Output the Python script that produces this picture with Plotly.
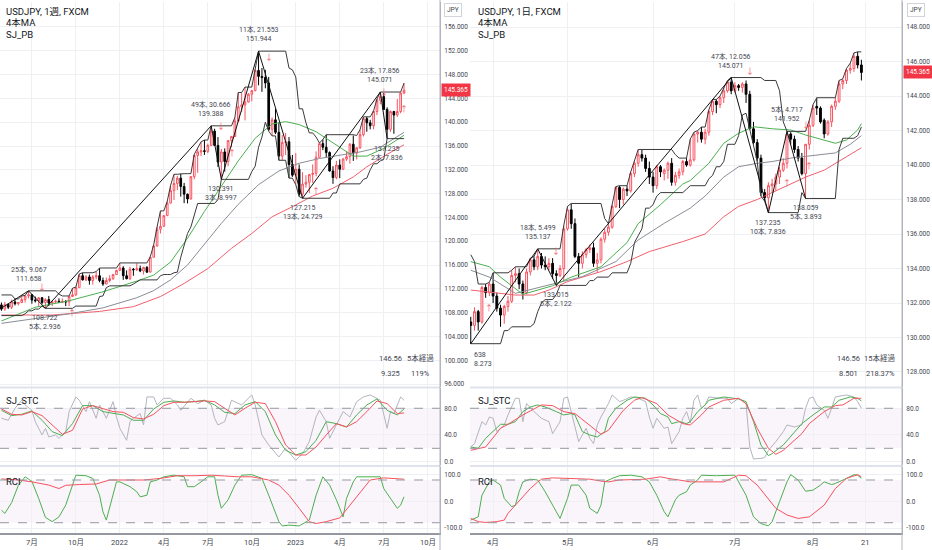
import plotly.graph_objects as go
import pandas as pd

FONT = "Roboto, 'Noto Sans CJK JP', sans-serif"

# ---------------- weekly USDJPY (1週) ----------------
w_dates = list(pd.date_range("2021-05-03", periods=120, freq="W-MON"))
w_open = [109.3, 108.6, 109.4, 108.9, 109.8, 109.5, 109.7, 110.2, 110.8, 111.0,
          110.1, 110.0, 110.5, 109.7, 110.2, 109.6, 109.8, 109.9, 109.7, 109.9,
          109.8, 110.7, 111.0, 112.2, 114.2, 113.5, 114.0, 113.4, 114.0, 114.2,
          113.4, 112.8, 113.4, 113.7, 114.4, 115.1, 115.5, 114.2, 113.7, 115.3,
          115.2, 115.4, 115.0, 115.6, 114.8, 117.3, 119.2, 122.0, 122.5, 124.3,
          126.4, 128.5, 129.7, 130.6, 129.2, 127.9, 127.1, 130.85, 134.4, 135.0,
          135.2, 135.1, 136.1, 138.5, 136.1, 133.3, 135.0, 133.4, 136.9, 137.6,
          140.2, 142.6, 142.9, 143.4, 144.7, 145.3, 148.7, 147.7, 147.5, 146.6,
          138.8, 140.4, 138.3, 134.3, 136.6, 136.7, 132.9, 131.1, 132.1, 127.9,
          129.6, 129.9, 131.2, 131.4, 134.1, 136.4, 135.8, 134.9, 131.8, 130.7,
          132.8, 132.1, 133.8, 134.2, 136.3, 134.8, 135.7, 137.9, 140.6, 139.9,
          139.4, 141.8, 143.7, 144.3, 142.15, 138.8, 141.8, 141.2, 141.8, 144.9]
w_high = [109.7, 109.8, 109.5, 110.2, 110.3, 109.8, 110.8, 110.9, 111.658, 111.1,
          110.7, 110.6, 110.6, 110.4, 110.8, 110.1, 110.2, 110.4, 110.4, 110.1,
          110.8, 112.1, 112.3, 114.5, 114.7, 114.3, 114.4, 114.3, 114.9, 115.5,
          113.9, 113.9, 114.3, 114.5, 115.2, 116.35, 115.8, 115.1, 115.7, 115.5,
          116.3, 115.9, 115.7, 115.8, 117.4, 119.4, 122.4, 125.1, 124.3, 126.7,
          129.4, 131.25, 131.0, 131.35, 129.8, 128.0, 130.9, 134.6, 135.6, 136.7,
          137.0, 136.4, 139.388, 138.9, 137.5, 135.5, 135.6, 137.0, 137.7, 140.8,
          144.99, 144.9, 145.9, 144.9, 145.4, 148.9, 151.944, 149.1, 148.8, 147.6,
          140.8, 142.25, 139.9, 137.85, 138.2, 137.5, 134.5, 134.8, 132.9, 131.6,
          131.1, 131.3, 132.9, 135.1, 136.5, 137.1, 137.9, 135.1, 132.6, 133.5,
          133.75, 134.0, 135.137, 136.5, 137.77, 135.8, 138.75, 140.9, 140.9, 140.4,
          141.9, 143.9, 145.071, 144.9, 142.5, 141.952, 141.9, 143.9, 145.0, 146.56]
w_low = [108.3, 108.3, 108.6, 108.6, 109.2, 109.2, 109.6, 109.7, 110.4, 109.5,
         109.7, 109.1, 109.4, 108.722, 109.1, 109.1, 109.6, 109.6, 109.6, 109.1,
         109.1, 110.7, 110.8, 112.2, 113.4, 113.3, 112.7, 112.7, 113.6, 113.1,
         112.5, 112.8, 113.1, 113.5, 114.4, 115.0, 113.5, 113.6, 113.5, 114.2,
         115.0, 114.8, 114.4, 114.7, 114.8, 117.3, 119.1, 121.3, 122.4, 124.3,
         126.4, 126.9, 128.6, 127.5, 126.4, 126.35, 127.0, 130.4, 131.5, 134.3,
         134.5, 134.8, 136.0, 136.7, 132.5, 130.391, 131.7, 132.6, 135.8, 137.5,
         140.0, 141.7, 140.3, 143.3, 143.5, 145.2, 146.2, 145.1, 145.7, 138.5,
         137.7, 138.0, 133.6, 133.6, 134.5, 130.6, 130.8, 129.5, 127.5, 127.215,
         129.0, 128.1, 129.8, 130.9, 134.0, 135.3, 134.1, 131.7, 129.64, 130.4,
         130.6, 132.0, 133.5, 133.015, 133.5, 133.75, 135.5, 137.6, 138.4, 138.8,
         138.8, 141.2, 143.0, 142.1, 137.235, 138.4, 138.059, 140.9, 141.5, 144.7]
w_close = [108.6, 109.4, 108.9, 109.8, 109.5, 109.7, 110.2, 110.8, 111.0, 110.1,
           110.0, 110.5, 109.7, 110.2, 109.6, 109.8, 109.9, 109.7, 109.9, 109.8,
           110.7, 111.0, 112.2, 114.2, 113.5, 114.0, 113.4, 114.0, 114.2, 113.4,
           112.8, 113.4, 113.7, 114.4, 115.1, 115.5, 114.2, 113.7, 115.3, 115.2,
           115.4, 115.0, 115.6, 114.8, 117.3, 119.2, 122.0, 122.5, 124.3, 126.4,
           128.5, 129.7, 130.6, 129.2, 127.9, 127.1, 130.85, 134.4, 135.0, 135.2,
           135.1, 136.1, 138.5, 136.1, 133.3, 135.0, 133.4, 136.9, 137.6, 140.2,
           142.6, 142.9, 143.4, 144.7, 145.3, 148.7, 147.7, 147.5, 146.6, 138.8,
           140.4, 138.3, 134.3, 136.6, 136.7, 132.9, 131.1, 132.1, 127.9, 129.6,
           129.9, 131.2, 131.4, 134.1, 136.4, 135.8, 134.9, 131.8, 130.7, 132.8,
           132.1, 133.8, 134.2, 136.3, 134.8, 135.7, 137.9, 140.6, 139.9, 139.4,
           141.8, 143.7, 144.3, 142.15, 138.8, 141.8, 141.2, 141.8, 144.9, 145.365]

# SJ_PB channel (weekly)
w_upper = [110.97, 110.97, 110.97, 110.97, 110.3, 110.3, 110.8, 110.9, 111.66, 111.66,
           111.66, 111.66, 111.66, 111.66, 111.66, 111.66, 111.66, 111.1, 110.8, 110.8,
           110.8, 112.1, 112.3, 114.5, 114.7, 114.7, 114.7, 114.7, 114.9, 115.5,
           115.5, 115.5, 115.5, 115.5, 115.5, 116.35, 116.35, 116.35, 116.35, 116.35,
           116.35, 116.35, 116.35, 116.35, 117.4, 119.4, 122.4, 125.1, 125.1, 126.7,
           129.4, 131.25, 131.25, 131.35, 131.35, 131.35, 131.35, 134.6, 135.6, 136.7,
           137.0, 137.0, 139.39, 139.39, 139.39, 139.39, 139.39, 139.39, 139.39, 140.8,
           144.99, 144.99, 145.9, 145.9, 145.9, 148.9, 151.94, 151.94, 151.94, 151.94,
           151.94, 151.94, 151.94, 151.94, 151.94, 149.1, 148.8, 147.6, 142.25, 142.25,
           139.9, 138.2, 138.2, 137.5, 136.5, 137.1, 137.9, 137.9, 137.9, 137.9,
           137.9, 137.9, 137.9, 137.9, 137.9, 137.77, 138.75, 140.9, 140.9, 140.9,
           141.9, 143.9, 145.07, 145.07, 145.07, 145.07, 145.07, 145.07, 145.07, 146.56]
w_lower = [107.5, 107.5, 107.5, 107.5, 107.5, 107.5, 107.5, 107.8, 108.3, 108.3,
           108.6, 108.6, 109.1, 108.72, 108.72, 108.72, 108.72, 108.72, 108.72, 108.72,
           108.72, 108.72, 109.1, 109.1, 109.1, 109.1, 109.1, 109.1, 109.1, 110.7,
           110.8, 112.2, 112.5, 112.5, 112.5, 112.5, 112.5, 112.5, 112.5, 112.8,
           113.1, 113.5, 113.5, 113.5, 113.5, 113.5, 113.5, 114.2, 114.4, 114.4,
           114.4, 114.7, 114.8, 117.3, 119.1, 121.3, 122.4, 124.3, 126.35, 126.35,
           126.35, 126.35, 126.35, 126.35, 127.0, 130.39, 130.39, 130.39, 130.39, 130.39,
           130.39, 130.39, 130.39, 130.39, 131.7, 132.6, 135.8, 137.5, 140.0, 138.5,
           137.7, 137.7, 133.6, 133.6, 133.6, 130.6, 130.6, 129.5, 127.5, 127.22,
           127.22, 127.22, 127.22, 127.22, 127.22, 127.22, 127.22, 127.22, 128.1, 128.1,
           129.64, 129.64, 129.64, 129.64, 129.64, 129.64, 129.64, 130.4, 130.6, 132.0,
           133.02, 133.02, 133.5, 133.75, 137.24, 137.24, 137.24, 137.24, 137.24, 137.24]

# 4本MA (weekly), read at bar indices
w_ma_green_idx = [0, 10, 20, 30, 40, 45, 50, 55, 60, 65, 70, 75, 80, 84, 88, 93, 98, 104, 108, 113, 119]
w_ma_green = [106.6, 108.9, 110.0, 111.5, 113.3, 114.3, 116.5, 120.5, 125.0, 129.3, 133.5,
              137.3, 139.7, 140.1, 139.6, 138.4, 136.6, 134.3, 134.3, 135.6, 137.8]
w_ma_grey_idx = [0, 10, 20, 30, 40, 45, 50, 55, 60, 65, 70, 76, 82, 88, 94, 100, 106, 112, 119]
w_ma_grey = [106.2, 107.0, 107.8, 108.8, 110.5, 111.7, 113.5, 116.0, 119.5, 123.0, 126.2,
             129.5, 131.8, 133.1, 133.9, 134.4, 135.0, 135.8, 138.3]
w_ma_pink_idx = [0, 15, 29, 39, 47, 54, 61, 68, 74, 80, 86, 92, 98, 104, 108, 114, 119]
w_ma_pink = [107.6, 107.6, 108.2, 109.0, 110.7, 112.9, 115.4, 118.8, 121.3, 124.1, 125.8,
             127.6, 128.9, 130.8, 132.5, 134.6, 136.2]

# zigzag pivots (weekly)
w_piv_dates = ["2021-01-04", "2021-06-28", "2021-08-02", "2022-07-11", "2022-08-01",
               "2022-10-17", "2023-01-16", "2023-06-26", "2023-07-10"]
w_piv_vals = [102.591, 111.658, 108.722, 139.388, 130.391, 151.944, 127.215, 145.071, 137.235]
w_piv_text = ["", "25本, 9.067<br>111.658", "108.722<br>5本, 2.936", "49本, 30.666<br>139.388",
              "130.391<br>3本, 8.997", "11本, 21.553<br>151.944", "127.215<br>13本, 24.729",
              "23本, 17.856<br>145.071", "137.235<br>2本, 7.836"]
w_piv_high = [False, True, False, True, False, True, False, True, False]

# signal arrows (weekly)
w_arrow_idx = [12, 21, 65, 68, 79, 113, 93, 119]
w_arrow_val = [112.3, 107.9, 139.2, 134.8, 150.8, 145.0, 128.3, 142.1]
w_arrow_sym = ["↓", "↑", "↓", "↑", "↓", "↓", "↑", "↑"]

# SJ_STC (weekly)
w_stc_idx = list(range(0, 118, 3)) + [119]
w_stc_red = [79, 71, 70, 75, 69, 55, 41, 47, 79, 84, 79, 75, 74, 66, 64, 71, 84, 89, 89, 90, 91,
             90, 80, 70, 80, 89, 87, 60, 25, 10, 10, 22, 40, 57, 52, 60, 75, 91, 87, 72, 73]
w_stc_green = [77, 69, 71, 76, 62, 45, 39, 57, 84, 84, 75, 72, 70, 62, 62, 79, 89, 91, 89, 90, 92,
               85, 74, 72, 85, 90, 75, 40, 17, 10, 15, 32, 60, 57, 52, 70, 85, 94, 77, 70, 79]
w_stc_grey_idx = [0, 2, 4, 6, 7, 9, 10, 12, 13, 14, 16, 17, 19, 20, 22, 23, 25, 26, 28, 29, 31, 32,
                  33, 34, 35, 37, 38, 39, 41, 42, 43, 45, 46, 48, 50, 52, 53, 56, 58, 60, 62, 63,
                  64, 66, 68, 71, 74, 75, 77, 79, 82, 84, 87, 89, 91, 93, 94, 96, 97, 99, 101,
                  103, 105, 107, 109, 112, 114, 115, 116, 118, 119]
w_stc_grey = [65, 62, 80, 92, 85, 77, 60, 40, 50, 37, 40, 35, 45, 75, 97, 92, 75, 90, 65, 85, 65, 77,
              90, 67, 50, 32, 60, 65, 72, 55, 97, 97, 85, 95, 95, 85, 77, 95, 87, 92, 85, 65,
              55, 60, 92, 85, 100, 85, 40, 25, 7, 20, 2, 12, 30, 67, 77, 60, 35, 55, 75,
              67, 90, 97, 100, 92, 50, 75, 72, 97, 92]

# RCI (weekly)
w_rci_red_idx = [0, 5, 9, 14, 17, 19, 23, 28, 32, 37, 42, 47, 52, 57, 62, 66, 70, 74, 79, 82, 85,
                 88, 91, 93, 96, 100, 103, 106, 109, 113, 119]
w_rci_red = [84, 80, 73, 61, 48, 60, 63, 65, 80, 80, 80, 86, 96, 96, 98, 95, 92, 92, 80, 61, 23,
             -26, -76, -83, -76, -62, -14, 36, 80, 88, 83]
w_rci_green_idx = [0, 1, 3, 5, 7, 9, 11, 13, 15, 17, 19, 21, 22, 25, 27, 29, 30, 31, 32, 34, 35, 38,
                   40, 41, 43, 44, 46, 48, 51, 54, 55, 57, 59, 61, 63, 64, 65, 67, 69, 71, 74, 77,
                   79, 82, 83, 85, 88, 91, 93, 94, 95, 97, 99, 101, 102, 104, 105, 108, 112, 113,
                   115, 117, 118, 119]
w_rci_green = [-33, -45, -5, 60, 92, 75, 11, -60, -76, -58, -14, 61, 98, 96, 86, 23, -39, -70, -20,
               73, 73, 55, 36, 17, 23, 73, 80, 92, 98, 92, 55, 55, 73, 92, 92, 23, -26, 6, 61, 98,
               100, 86, 23, -76, -92, -89, -92, -70, 23, 61, 92, 61, 6, -58, 11, 73, 92, 92, 92,
               48, 11, -26, -14, 17]

w_tick_dates = ["2021-07-05", "2021-10-04", "2022-01-03", "2022-04-04", "2022-07-04",
                "2022-10-03", "2023-01-02", "2023-04-03", "2023-07-03", "2023-10-02"]
w_tick_text = ["7月", "10月", "2022", "4月", "7月", "10月", "2023", "4月", "7月", "10月"]
w_price_ticks = list(range(96, 157, 4))

# ---------------- daily USDJPY (1日) ----------------
d_dates = list(pd.bdate_range("2023-03-24", "2023-08-18"))
d_open = [130.9, 130.7, 131.5, 130.9, 132.9, 132.6, 133.1, 132.4, 131.7, 131.3,
          131.8, 132.1, 133.6, 133.7, 133.1, 132.6, 133.8, 134.5, 134.1, 134.7,
          134.2, 134.1, 134.3, 133.7, 133.6, 134.0, 136.3, 137.4, 136.6, 134.7,
          134.3, 134.8, 135.1, 135.2, 134.3, 134.5, 135.7, 136.1, 136.4, 137.6,
          138.7, 138.0, 138.6, 138.5, 139.5, 140.1, 140.6, 140.4, 139.8, 139.3,
          138.8, 139.9, 139.5, 139.7, 140.1, 139.0, 139.4, 139.6, 140.2, 140.0,
          140.3, 141.8, 141.9, 141.5, 141.9, 143.1, 143.7, 143.5, 143.9, 144.3,
          144.8, 144.3, 144.6, 144.5, 144.7, 144.1, 142.1, 141.3, 140.4, 138.4,
          138.1, 138.8, 138.9, 139.3, 139.7, 140.1, 141.8, 141.5, 140.9, 140.4,
          139.5, 141.2, 142.3, 143.4, 143.3, 142.6, 141.8, 142.5, 143.4, 143.7,
          144.7, 144.9, 145.5, 145.6, 146.3, 145.8]
d_high = [131.2, 131.75, 131.6, 133.0, 133.1, 133.2, 133.75, 132.6, 131.9, 131.9,
          132.4, 133.9, 134.1, 134.0, 133.3, 134.0, 134.6, 134.7, 135.137, 134.9,
          134.7, 134.6, 134.6, 133.9, 134.2, 136.5, 137.6, 137.77, 136.9, 134.9,
          135.0, 135.2, 135.4, 135.5, 134.9, 135.8, 136.3, 136.6, 137.7, 138.75,
          138.8, 138.7, 138.8, 139.6, 140.2, 140.9, 140.9, 140.6, 140.2, 139.6,
          140.0, 140.0, 139.8, 140.2, 140.4, 139.6, 139.8, 140.3, 140.4, 141.5,
          141.9, 142.0, 142.2, 142.1, 143.2, 143.8, 143.8, 144.0, 144.5, 144.9,
          145.071, 144.8, 144.7, 144.8, 144.9, 144.3, 142.5, 141.5, 140.6, 138.6,
          139.0, 139.2, 139.5, 139.9, 140.4, 141.952, 141.9, 141.7, 141.1, 140.7,
          141.2, 142.6, 143.5, 143.9, 143.4, 142.7, 142.6, 143.5, 143.9, 144.9,
          145.0, 145.6, 145.9, 146.5, 146.56, 146.1]
d_low = [129.638, 130.4, 130.4, 130.8, 132.3, 132.4, 132.0, 131.5, 130.62, 130.8,
         131.5, 132.0, 133.2, 132.8, 132.2, 132.5, 133.6, 133.9, 133.9, 134.0,
         133.9, 133.9, 133.4, 133.015, 133.5, 133.3, 136.2, 136.3, 134.6, 133.5,
         134.0, 134.6, 134.9, 134.1, 133.75, 134.3, 135.5, 135.9, 136.3, 137.5,
         137.5, 137.7, 138.2, 138.4, 139.3, 139.9, 140.2, 139.6, 138.9, 138.4,
         138.6, 139.3, 139.1, 139.2, 138.8, 138.8, 139.2, 139.4, 139.9, 139.9,
         140.2, 141.3, 141.3, 141.2, 141.7, 142.9, 143.0, 143.3, 143.6, 144.2,
         144.1, 144.2, 144.3, 144.2, 143.6, 142.1, 141.2, 140.2, 138.2, 137.9,
         137.235, 138.4, 138.5, 138.9, 139.6, 139.8, 141.2, 140.7, 140.2, 139.4,
         138.059, 140.9, 142.2, 142.9, 142.4, 141.55, 141.7, 142.2, 143.2, 143.6,
         144.4, 144.7, 145.3, 145.4, 145.6, 144.9]
d_close = [130.7, 131.5, 130.9, 132.9, 132.6, 133.1, 132.4, 131.7, 131.3, 131.8,
           132.1, 133.6, 133.7, 133.1, 132.6, 133.8, 134.5, 134.1, 134.7, 134.2,
           134.1, 134.3, 133.7, 133.6, 134.0, 136.3, 137.4, 136.6, 134.7, 134.3,
           134.8, 135.1, 135.2, 134.3, 134.5, 135.7, 136.1, 136.4, 137.6, 138.7,
           138.0, 138.6, 138.5, 139.5, 140.1, 140.6, 140.4, 139.8, 139.3, 138.8,
           139.9, 139.6, 139.7, 140.1, 139.0, 139.4, 139.6, 140.2, 140.0, 140.3,
           141.8, 141.9, 141.5, 141.9, 143.1, 143.7, 143.5, 143.9, 144.3, 144.8,
           144.3, 144.6, 144.5, 144.7, 144.1, 142.1, 141.3, 140.4, 138.4, 138.1,
           138.8, 138.9, 139.3, 139.7, 140.1, 141.8, 141.5, 140.9, 140.4, 139.5,
           141.2, 142.3, 143.3, 143.3, 142.5, 141.8, 142.5, 143.4, 143.7, 144.7,
           144.9, 145.5, 145.6, 146.3, 145.8, 145.365]

# SJ_PB channel (daily)
d_upper = [134.8, 134.4, 133.1, 133.1, 133.1, 133.2, 133.75, 133.75, 133.75, 133.75,
           133.75, 133.9, 134.1, 134.1, 134.1, 134.1, 134.6, 134.7, 135.14, 135.14,
           135.14, 135.14, 135.14, 135.14, 135.14, 136.5, 137.6, 137.77, 137.77, 137.77,
           137.77, 137.77, 137.77, 137.77, 137.77, 137.77, 136.9, 136.6, 137.7, 138.75,
           138.8, 138.8, 138.8, 139.6, 140.2, 140.9, 140.9, 140.9, 140.9, 140.9,
           140.9, 140.9, 140.9, 140.9, 140.9, 140.6, 140.4, 140.4, 140.4, 141.5,
           141.9, 142.0, 142.2, 142.2, 143.2, 143.8, 143.8, 144.0, 144.5, 144.9,
           145.07, 145.07, 145.07, 145.07, 145.07, 145.07, 145.07, 145.07, 145.07, 144.9,
           144.9, 144.9, 144.9, 144.3, 142.5, 141.95, 141.95, 141.95, 141.95, 141.95,
           141.95, 142.6, 143.5, 143.9, 143.9, 143.9, 143.9, 143.9, 143.9, 144.9,
           145.0, 145.6, 145.9, 146.5, 146.56, 146.56]
d_lower = [129.64, 129.64, 129.64, 129.64, 129.64, 129.64, 129.64, 129.64, 129.64, 130.4,
           130.4, 130.62, 130.62, 130.62, 130.62, 130.62, 130.62, 130.8, 131.5, 132.0,
           132.2, 132.2, 132.2, 132.5, 133.02, 133.02, 133.02, 133.02, 133.02, 133.02,
           133.02, 133.02, 133.3, 133.3, 133.5, 133.5, 133.5, 133.5, 133.75, 133.75,
           133.75, 133.75, 133.75, 134.3, 135.5, 135.9, 136.3, 137.5, 137.5, 137.7,
           138.2, 138.4, 138.4, 138.4, 138.4, 138.4, 138.4, 138.4, 138.6, 138.8,
           138.8, 138.8, 138.8, 138.8, 139.2, 139.4, 139.9, 139.9, 140.2, 141.2,
           141.2, 141.2, 141.7, 142.9, 143.0, 142.1, 141.2, 140.2, 138.2, 137.9,
           137.24, 137.24, 137.24, 137.24, 137.24, 137.24, 137.24, 137.24, 137.24, 138.4,
           138.06, 138.06, 138.06, 138.06, 138.06, 138.06, 138.06, 138.06, 138.06, 140.9,
           141.55, 141.55, 141.55, 141.55, 141.7, 142.2]

# 4本MA (daily), read at bar indices
d_ma_green_idx = [0, 5, 8, 14, 22, 27, 35, 42, 45, 51, 57, 59, 64, 68, 72, 76, 81, 86, 90, 95, 98, 101, 104, 105]
d_ma_green = [134.4, 134.1, 133.5, 132.5, 133.0, 133.5, 134.1, 135.5, 136.6, 137.7, 138.9, 139.1,
              140.1, 141.26, 141.84, 142.22, 142.1, 142.03, 141.74, 141.45, 141.26, 141.45, 142.03, 142.4]
d_ma_grey_idx = [0, 5, 12, 23, 30, 39, 45, 52, 59, 63, 68, 72, 77, 81, 86, 90, 95, 98, 102, 105]
d_ma_grey = [133.9, 133.5, 132.56, 133.14, 133.53, 134.4, 135.65, 136.62, 137.5, 138.2, 139.3,
             139.9, 140.1, 140.2, 140.4, 140.5, 140.6, 140.7, 141.2, 141.7]
d_ma_pink_idx = [0, 12, 17, 21, 26, 35, 42, 48, 57, 63, 68, 72, 77, 81, 86, 90, 95, 99, 105]
d_ma_pink = [132.75, 132.46, 132.46, 132.75, 133.24, 133.82, 134.4, 134.98, 135.56, 136.0, 137.0,
             137.6, 138.0, 138.4, 138.9, 139.3, 139.7, 140.2, 141.0]

# zigzag pivots (daily)
d_piv_dates = ["2023-03-08", "2023-03-24", "2023-04-19", "2023-04-26", "2023-06-30",
               "2023-07-14", "2023-07-21", "2023-07-28"]
d_piv_vals = [137.911, 129.638, 135.137, 133.015, 145.071, 137.235, 141.952, 138.059]
d_piv_text = ["", "", "18本, 5.499<br>135.137", "133.015<br>5本, 2.122", "47本, 12.056<br>145.071",
              "137.235<br>10本, 7.836", "5本, 4.717<br>141.952", "138.059<br>5本, 3.893"]
d_piv_high = [True, False, True, False, True, False, True, False]

d_arrow_idx = [5, 23, 75, 85, 90, 91]
d_arrow_val = [131.7, 135.0, 145.4, 138.9, 142.3, 139.9]
d_arrow_sym = ["↑", "↓", "↓", "↑", "↓", "↑"]

# SJ_STC (daily)
d_stc_red_idx = [0, 4, 8, 10, 14, 19, 22, 25, 28, 32, 35, 37, 41, 44, 46, 50, 53, 57, 59, 62, 64,
                 68, 72, 74, 77, 80, 82, 84, 86, 89, 91, 95, 98, 100, 103, 105]
d_stc_red = [17, 22, 50, 56, 70, 85, 84, 75, 72, 55, 41, 47, 77, 92, 96, 87, 70, 57, 55, 70, 82,
             92, 95, 87, 50, 20, 11, 17, 27, 42, 57, 75, 84, 85, 95, 95]
d_stc_green_idx = [0, 2, 4, 6, 8, 10, 12, 14, 16, 18, 20, 23, 25, 27, 28, 30, 32, 34, 36, 37, 39,
                   42, 44, 47, 49, 51, 53, 54, 56, 58, 59, 61, 63, 64, 68, 72, 74, 76, 78, 80, 81,
                   84, 87, 89, 92, 95, 97, 99, 102, 104, 105]
d_stc_green = [22, 20, 35, 45, 56, 56, 60, 75, 82, 85, 82, 75, 70, 72, 70, 45, 40, 37, 45, 65, 80,
               92, 97, 95, 85, 72, 67, 57, 60, 57, 60, 75, 85, 92, 97, 94, 90, 60, 25, 9, 12,
               25, 45, 57, 70, 82, 82, 92, 97, 95, 91]
d_stc_grey_idx = [0, 1, 3, 4, 5, 6, 7, 9, 10, 12, 13, 14, 15, 17, 19, 21, 22, 24, 25, 26, 27, 28,
                  29, 31, 32, 33, 34, 35, 37, 38, 40, 41, 43, 45, 47, 48, 49, 50, 52, 53, 54, 56,
                  57, 58, 59, 60, 61, 62, 63, 64, 67, 69, 70, 72, 74, 75, 76, 78, 79, 80, 82, 84,
                  85, 87, 89, 90, 91, 92, 93, 95, 96, 97, 98, 101, 103, 104, 105]
d_stc_grey = [22, 27, 60, 55, 67, 65, 45, 55, 70, 95, 95, 60, 87, 75, 65, 60, 42, 60, 95, 97, 75, 50,
              30, 50, 35, 27, 55, 67, 87, 100, 90, 92, 97, 95, 90, 67, 50, 65, 50, 52, 27, 45,
              65, 75, 58, 92, 100, 80, 85, 97, 95, 95, 87, 95, 87, 22, 4, 5, 6, 17, 30, 45,
              55, 52, 55, 80, 95, 97, 85, 77, 65, 80, 97, 100, 97, 90, 80]

# RCI (daily)
d_rci_red_idx = [0, 2, 4, 7, 9, 10, 12, 14, 16, 18, 19, 22, 26, 29, 32, 35, 37, 40, 44, 47, 51, 53,
                 56, 59, 63, 68, 72, 74, 77, 80, 82, 85, 88, 91, 95, 98, 101, 104, 105]
d_rci_red = [-64, -76, -79, -76, -70, -45, -14, 17, 48, 73, 83, 88, 86, 86, 83, 76, 73, 80, 83, 83,
             92, 86, 80, 73, 73, 73, 98, 96, 61, 11, -26, -51, -64, -58, -14, 48, 86, 100, 92]
d_rci_green_idx = [0, 2, 3, 5, 6, 8, 9, 11, 12, 13, 14, 16, 18, 20, 23, 24, 26, 27, 29, 31, 32, 34,
                   35, 36, 38, 40, 43, 46, 48, 50, 52, 53, 54, 55, 56, 58, 59, 61, 62, 66, 71, 72,
                   74, 76, 78, 80, 81, 83, 85, 86, 88, 90, 92, 94, 95, 97, 98, 101, 103, 104, 105]
d_rci_green = [-70, -58, 23, 73, 80, 61, 11, -20, -14, 36, 73, 83, 80, 36, -39, -64, 11, 61, 61, 23,
               -26, -45, -14, 73, 86, 96, 98, 92, 73, 23, -39, -58, -26, 6, 23, 36, 61, 80, 98, 96,
               98, 73, 23, -58, -83, -92, -76, -1, 73, 100, 80, 38, 42, 61, 73, 63, 67, 86, 100,
               98, 86]

d_tick_dates = ["2023-04-03", "2023-05-01", "2023-06-01", "2023-07-03", "2023-08-01", "2023-08-21"]
d_tick_text = ["4月", "5月", "6月", "7月", "8月", "21"]
d_price_ticks = list(range(128, 149, 2))

last_price = 145.365
stc_ticks = [0, 40, 80]
rci_ticks = [-100, 0, 100]

# ---------------- styling ----------------
C_UP = "#f7525f"
C_DN = "#000000"
C_GREEN = "#4caf50"
C_GREY = "#8a8d96"
C_PINK = "#f0606e"
C_CH = "#3a3a3a"
C_GRID = "#eef0f4"
C_TXT = "#434651"

W = 902.0      # plot width in px (932 minus right margin)
H = 533.0      # plot height in px (550 minus bottom margin)


def px_x(p):
    return p / W


def px_y(p):
    return 1 - p / H


XL = [0, px_x(440)]
XR = [px_x(470), 1]
Y_MAIN = [px_y(387), px_y(2)]
Y_STC = [px_y(465), px_y(388)]
Y_RCI = [0, px_y(467)]

fig = go.Figure()


def line(xs, ys, color, xa, ya, width=1.0):
    fig.add_trace(go.Scatter(x=xs, y=ys, mode="lines", line=dict(color=color, width=width),
                             xaxis=xa, yaxis=ya, hoverinfo="skip"))


def panel(dates, o, h, l, c, up, lo, mas, piv_d, piv_v, xa, ya):
    fig.add_trace(go.Candlestick(
        x=dates, open=o, high=h, low=l, close=c, xaxis=xa, yaxis=ya, whiskerwidth=0,
        increasing=dict(line=dict(color=C_UP, width=1), fillcolor="#ffffff"),
        decreasing=dict(line=dict(color=C_DN, width=1), fillcolor=C_DN),
        hoverinfo="skip"))
    for idx, vals, col in mas:
        line([dates[i] for i in idx], vals, col, xa, ya)
    line(dates, up, C_CH, xa, ya)
    line(dates, lo, C_CH, xa, ya)
    line(piv_d, piv_v, "#111111", xa, ya)


panel(w_dates, w_open, w_high, w_low, w_close, w_upper, w_lower,
      [(w_ma_pink_idx, w_ma_pink, C_PINK), (w_ma_grey_idx, w_ma_grey, C_GREY),
       (w_ma_green_idx, w_ma_green, C_GREEN)], w_piv_dates, w_piv_vals, "x", "y")
panel(d_dates, d_open, d_high, d_low, d_close, d_upper, d_lower,
      [(d_ma_pink_idx, d_ma_pink, C_PINK), (d_ma_grey_idx, d_ma_grey, C_GREY),
       (d_ma_green_idx, d_ma_green, C_GREEN)], d_piv_dates, d_piv_vals, "x2", "y2")

# oscillators
line([w_dates[i] for i in w_stc_grey_idx], w_stc_grey, "#b2b5be", "x3", "y3")
line([w_dates[i] for i in w_stc_idx], w_stc_green, C_GREEN, "x3", "y3")
line([w_dates[i] for i in w_stc_idx], w_stc_red, C_UP, "x3", "y3")
line([w_dates[i] for i in w_rci_green_idx], w_rci_green, C_GREEN, "x5", "y5")
line([w_dates[i] for i in w_rci_red_idx], w_rci_red, C_UP, "x5", "y5")

line([d_dates[i] for i in d_stc_grey_idx], d_stc_grey, "#b2b5be", "x4", "y4")
line([d_dates[i] for i in d_stc_green_idx], d_stc_green, C_GREEN, "x4", "y4")
line([d_dates[i] for i in d_stc_red_idx], d_stc_red, C_UP, "x4", "y4")
line([d_dates[i] for i in d_rci_green_idx], d_rci_green, C_GREEN, "x6", "y6")
line([d_dates[i] for i in d_rci_red_idx], d_rci_red, C_UP, "x6", "y6")

# ---------------- axes ----------------
tickfont = dict(family=FONT, size=6.5, color=C_TXT)
w_range = ["2021-04-30", "2023-10-27 10:00"]
d_range = ["2023-03-23 19:00", "2023-09-01 22:00"]
breaks = [dict(bounds=["sat", "mon"])]


def xaxis(domain, anchor, tv, rng=None, match=None, rb=None, bottom=False):
    ax = dict(domain=domain, anchor=anchor, type="date", tickvals=tv, showticklabels=False,
              showgrid=True, gridcolor=C_GRID, gridwidth=1, zeroline=False, ticks="",
              fixedrange=True, rangeslider=dict(visible=False))
    if rng:
        ax["range"] = rng
    if match:
        ax["matches"] = match
    if rb:
        ax["rangebreaks"] = rb
    if bottom:
        ax.update(showline=True, linecolor="#9598a1", linewidth=2)
    return ax


def yaxis(domain, anchor, rng, tv, tt):
    return dict(domain=domain, anchor=anchor, side="right", range=rng, tickvals=tv, ticktext=tt,
                showgrid=True, gridcolor=C_GRID, zeroline=False, tickfont=tickfont, ticks="",
                ticklen=0, ticklabelstandoff=2, showline=True, linecolor="#b2b5be", linewidth=1,
                fixedrange=True)


fig.update_layout(
    xaxis=xaxis(XL, "y", w_tick_dates, rng=w_range),
    xaxis3=xaxis(XL, "y3", w_tick_dates, match="x"),
    xaxis5=xaxis(XL, "y5", w_tick_dates, match="x", bottom=True),
    xaxis2=xaxis(XR, "y2", d_tick_dates, rng=d_range, rb=breaks),
    xaxis4=xaxis(XR, "y4", d_tick_dates, match="x2", rb=breaks),
    xaxis6=xaxis(XR, "y6", d_tick_dates, match="x2", rb=breaks, bottom=True),
    yaxis=yaxis(Y_MAIN, "x", [95.5, 160.2], w_price_ticks, [f"{v:.3f}" for v in w_price_ticks]),
    yaxis2=yaxis(Y_MAIN, "x2", [127.13, 149.45], d_price_ticks, [f"{v:.3f}" for v in d_price_ticks]),
    yaxis3=yaxis(Y_STC, "x3", [-5, 110.4], stc_ticks, [f"{v:.1f}" for v in stc_ticks]),
    yaxis4=yaxis(Y_STC, "x4", [-5, 110.4], stc_ticks, [f"{v:.1f}" for v in stc_ticks]),
    yaxis5=yaxis(Y_RCI, "x5", [-118.5, 128.7], rci_ticks, [f"{v:.1f}" for v in rci_ticks]),
    yaxis6=yaxis(Y_RCI, "x6", [-118.5, 128.7], rci_ticks, [f"{v:.1f}" for v in rci_ticks]),
)

# ---------------- shapes ----------------
shapes = []
for xs, ys, lv, hv in [("x3", "y3", 20, 80), ("x4", "y4", 20, 80),
                       ("x5", "y5", -80, 80), ("x6", "y6", -80, 80)]:
    shapes.append(dict(type="rect", xref=f"{xs} domain", yref=ys, x0=0, x1=1, y0=lv, y1=hv,
                       fillcolor="rgba(186,104,200,0.07)", line=dict(width=0), layer="below"))
    for v in (lv, hv):
        shapes.append(dict(type="line", xref=f"{xs} domain", yref=ys, x0=0, x1=1, y0=v, y1=v,
                           line=dict(color="#9598a1", width=1, dash="dash")))
for yy in (387.5, 466):
    for x0, x1 in ((0, px_x(440)), (px_x(470), 1)):
        shapes.append(dict(type="line", xref="paper", yref="paper", x0=x0, x1=x1,
                           y0=px_y(yy), y1=px_y(yy), line=dict(color="#e0e3eb", width=2)))
for xx in (440, 902):
    shapes.append(dict(type="line", xref="paper", yref="paper", x0=px_x(xx), x1=px_x(xx),
                       y0=px_y(550), y1=1, line=dict(color="#b2b5be", width=1)))
fig.update_layout(shapes=shapes)

# ---------------- annotations ----------------
ann = []


def text(x, y, s, xref="paper", yref="paper", size=7, color=C_TXT, xanchor="center",
         yanchor="middle", yshift=0, **kw):
    ann.append(dict(x=x, y=y, xref=xref, yref=yref, text=s, showarrow=False, xanchor=xanchor,
                    yanchor=yanchor, yshift=yshift, font=dict(family=FONT, size=size, color=color),
                    **kw))


for x0, tf in ((4, "1週"), (476, "1日")):
    text(px_x(x0), px_y(12), f"USDJPY, {tf}, FXCM", size=9.5, color="#131722", xanchor="left")
    text(px_x(x0), px_y(23), "4本MA", size=9.5, color="#131722", xanchor="left")
    text(px_x(x0), px_y(34), "SJ_PB", size=9.5, color="#131722", xanchor="left")
    text(px_x(x0), px_y(400), "SJ_STC", size=9.5, color="#131722", xanchor="left")
    text(px_x(x0), px_y(481), "RCI", size=9.5, color="#131722", xanchor="left")

# date labels under the bottom panes
for dt, tt in zip(w_tick_dates, w_tick_text):
    text(dt, px_y(542), tt, xref="x5", size=7.5)
for dt, tt in zip(d_tick_dates, d_tick_text):
    text(dt, px_y(542), tt, xref="x6", size=7.5)

for xx in (453, 916):
    text(px_x(xx), px_y(10), "JPY", size=6.5, bordercolor="#d1d4dc", borderwidth=1, borderpad=2)

text(px_x(441), last_price, f"{last_price:.3f}", yref="y", size=6.5, color="#ffffff",
     xanchor="left", bgcolor="#f23645", borderpad=2)
text(px_x(903), last_price, f"{last_price:.3f}", yref="y2", size=6.5, color="#ffffff",
     xanchor="left", bgcolor="#f23645", borderpad=2)

for dts, vals, txts, highs, xr, yr in ((w_piv_dates, w_piv_vals, w_piv_text, w_piv_high, "x", "y"),
                                        (d_piv_dates, d_piv_vals, d_piv_text, d_piv_high, "x2", "y2")):
    for dt, v, t, hi in zip(dts, vals, txts, highs):
        if t:
            text(dt, v, t, xref=xr, yref=yr, size=7, yanchor="bottom" if hi else "top",
                 yshift=6 if hi else -4)
text(px_x(472), d_piv_vals[1], "638<br>8.273", yref="y2", xanchor="left", yanchor="top",
     yshift=-5, align="left")

for idx, vals, syms, dts, xr, yr in ((w_arrow_idx, w_arrow_val, w_arrow_sym, w_dates, "x", "y"),
                                      (d_arrow_idx, d_arrow_val, d_arrow_sym, d_dates, "x2", "y2")):
    for i, v, s in zip(idx, vals, syms):
        text(dts[i], v, s, xref=xr, yref=yr, size=8, color=C_UP)

# swing statistics
text(px_x(390), px_y(358), "146.56", size=7.5)
text(px_x(420), px_y(358), "5本経過", size=7.5)
text(px_x(390), px_y(373), "9.325", size=7.5)
text(px_x(420), px_y(373), "119%", size=7.5)
text(px_x(848), px_y(358), "146.56", size=7.5)
text(px_x(879), px_y(358), "15本経過", size=7.5)
text(px_x(848), px_y(373), "8.501", size=7.5)
text(px_x(880), px_y(373), "218.37%", size=7.5)

fig.update_layout(
    annotations=ann,
    width=932, height=550,
    margin=dict(l=0, r=30, t=0, b=17),
    paper_bgcolor="#ffffff", plot_bgcolor="#ffffff",
    showlegend=False, hovermode=False,
    font=dict(family=FONT, size=8, color=C_TXT),
)

# the page's default body margin would push the fixed-size figure out of the window
fig.write_html("out.html", config={"displayModeBar": False},
               post_script="document.body.style.margin='0';document.body.style.overflow='hidden';")
